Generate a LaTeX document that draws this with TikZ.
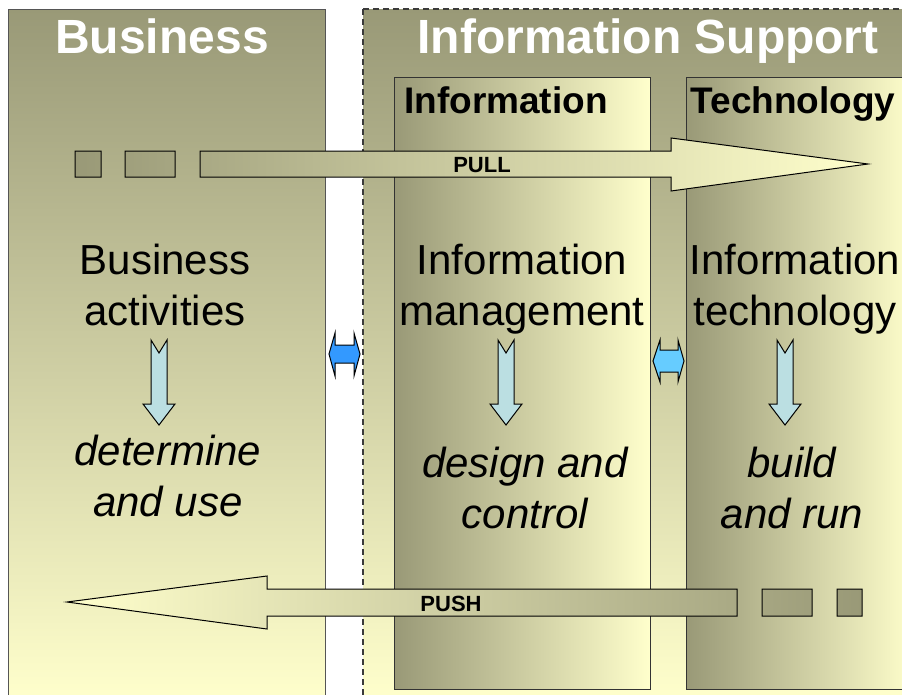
\documentclass[tikz,border=0pt]{standalone}
\usepackage{fontspec}
\setmainfont{Liberation Sans}
\definecolor{dk}{HTML}{999977}
\definecolor{lt}{HTML}{FFFFCC}
\definecolor{arrowblue}{HTML}{BBDFE2}
\definecolor{dblue}{HTML}{3399FF}
\definecolor{lblue}{HTML}{66CCFF}
\definecolor{edge}{HTML}{555555}
\definecolor{dashedge}{HTML}{3A3A3A}
\tikzset{
  hdr/.style={font=\bfseries\fontsize{48}{56}\selectfont, text=white, anchor=base, inner sep=0pt},
  sub/.style={font=\bfseries\fontsize{37}{44}\selectfont, text=black, anchor=base, inner sep=0pt},
  body/.style={font=\fontsize{42}{51}\selectfont, align=center, anchor=base, inner sep=0pt},
  ital/.style={font=\itshape\fontsize{42}{51}\selectfont, align=center, anchor=base, inner sep=0pt},
  lbl/.style={font=\bfseries\fontsize{22}{26}\selectfont, anchor=base, inner sep=0pt},
  downarr/.style={fill=arrowblue, draw=black, line width=1pt, line join=miter},
  dbl/.style={draw=black, line width=1pt},
  flow/.style={draw=black, line width=1pt},
  panel/.style={line width=1pt, top color=dk, middle color=dk!45!lt, bottom color=lt}
}
\begin{document}
\begin{tikzpicture}[x=1pt,y=-1pt]
\clip (0,0) rectangle (902,694);
\fill[white] (0,0) rectangle (902,694);
% main panels
\draw[panel, draw=edge] (8,9) rectangle (325,700);
\draw[panel, draw=dashedge, line width=1.2pt, dash pattern=on 6pt off 4pt] (363,9) rectangle (915,700);
% sub panels
\draw[draw=black!80, line width=1pt, left color=dk, right color=lt] (394,77) rectangle (650,689);
\draw[draw=black!80, line width=1pt, left color=dk, right color=lt] (686,77) rectangle (915,689);
% PULL arrow
\draw[flow, left color=dk, right color=lt]
  (75,151) rectangle (101,177)
  (125,151) rectangle (175,177)
  (200,151) -- (671,151) -- (671,138) -- (868,164) -- (671,191) -- (671,177) -- (200,177) -- cycle;
% PUSH arrow
\draw[flow, left color=lt, right color=dk]
  (67,602) -- (267,576) -- (267,589) -- (737,589) -- (737,616) -- (267,616) -- (267,629) -- cycle
  (762,589) rectangle (812,616)
  (837,589) rectangle (862,616);
% down arrows
\foreach \cx in {159,506,785}
  \draw[downarr] (\cx-8,340) -- (\cx,353) -- (\cx+8,340) -- (\cx+8,404) -- (\cx+16,404) -- (\cx,425) -- (\cx-16,404) -- (\cx-8,404) -- cycle;
% double arrows
\draw[dbl, fill=dblue] (329,354) -- (335,333) -- (335,345) -- (354,345) -- (354,333) -- (360,354) -- (354,376) -- (354,363) -- (335,363) -- (335,376) -- cycle;
\draw[dbl, fill=lblue] (653,361) -- (660,340) -- (660,350) -- (678,350) -- (678,340) -- (684,361) -- (678,382) -- (678,372) -- (660,372) -- (660,382) -- cycle;
% texts
\node[hdr] (tbus) at (162,53) {Business};
\node[hdr] (tis) at (648,53) {Information Support};
\node[sub] (tinf) at (506,113) {Information};
\node[sub] (ttech) at (793,113) {Technology};
\node[lbl] (tpull) at (482,172) {PULL};
\node[lbl] (tpush) at (451,611) {PUSH};
\node[body] (ba) at (165,325) {Business\\activities};
\node[body] (im) at (522,325) {Information\\management};
\node[body] (it) at (795,325) {Information\\technology};
\node[ital] (du) at (168,516) {determine\\and use};
\node[ital] (dc) at (525,528) {design and\\control};
\node[ital] (br) at (792,528) {build\\and run};
\end{tikzpicture}
\end{document}
